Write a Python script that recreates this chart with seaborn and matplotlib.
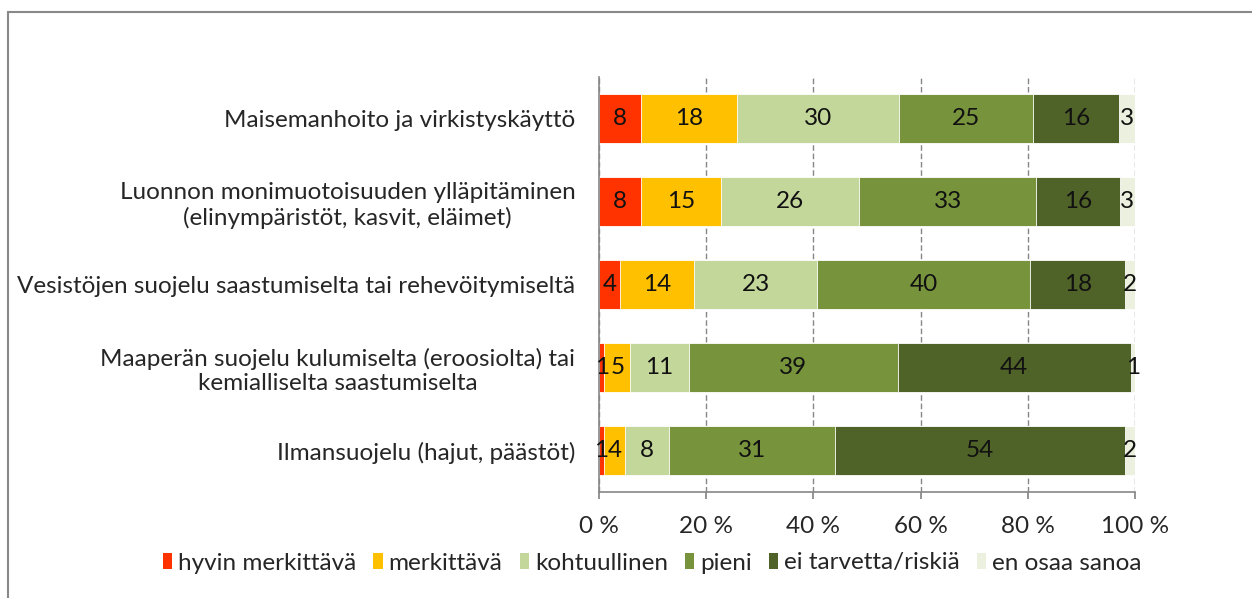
import numpy as np
import pandas as pd
import matplotlib
matplotlib.use("Agg")
import matplotlib.pyplot as plt
from matplotlib.patches import Patch, Rectangle
import seaborn as sns

categories = [
    "Maisemanhoito ja virkistyskäyttö",
    "Luonnon monimuotoisuuden ylläpitäminen\n(elinympäristöt, kasvit, eläimet)",
    "Vesistöjen suojelu saastumiselta tai rehevöitymiseltä",
    "Maaperän suojelu kulumiselta (eroosiolta) tai\nkemialliselta saastumiselta",
    "Ilmansuojelu (hajut, päästöt)",
]
series_names = ["hyvin merkittävä", "merkittävä", "kohtuullinen", "pieni",
                "ei tarvetta/riskiä", "en osaa sanoa"]
hyvin_merkittava = [7.8, 7.8, 3.9, 1.0, 0.9]
merkittava = [17.9, 15.0, 13.8, 4.8, 4.0]
kohtuullinen = [30.2, 25.8, 23.0, 11.0, 8.2]
pieni = [25.0, 32.9, 39.8, 38.9, 31.0]
ei_tarvetta = [16.1, 15.7, 17.6, 43.5, 54.0]
en_osaa = [3.0, 2.8, 1.9, 0.8, 1.9]
labels = [
    [8, 8, 4, 1, 1],
    [18, 15, 14, 5, 4],
    [30, 26, 23, 11, 8],
    [25, 33, 40, 39, 31],
    [16, 16, 18, 44, 54],
    [3, 3, 2, 1, 2],
]
xticklabels = ["0 %", "20 %", "40 %", "60 %", "80 %", "100 %"]
colors = ["#FF3300", "#FFC000", "#C4D79B", "#77933C", "#4F6228", "#EBF1DE"]

series = [hyvin_merkittava, merkittava, kohtuullinen, pieni, ei_tarvetta, en_osaa]

sns.set_theme(style="white")
plt.rcParams["font.family"] = ["Lato", "DejaVu Sans"]

FS = 17.5
W, H = 1252, 598
fig = plt.figure(figsize=(W / 100, H / 100), dpi=100)
ax = fig.add_axes([599 / W, 1 - 492 / H, (1135 - 599) / W, (492 - 77) / H])

vals = np.array(series)
cum = np.cumsum(vals, axis=0)

df_base = pd.DataFrame({"cat": categories})
for i in range(len(series) - 1, -1, -1):
    d = df_base.copy()
    d["v"] = cum[i]
    sns.barplot(data=d, y="cat", x="v", orient="h", color=colors[i],
                width=0.58, ax=ax, saturation=1, edgecolor="white",
                linewidth=0.6, zorder=3)

for i in range(len(series)):
    for j in range(len(categories)):
        center = cum[i][j] - vals[i][j] / 2
        ax.text(center, j, str(labels[i][j]), ha="center", va="center",
                fontsize=FS, color="#111111", zorder=5)

ax.set_xlim(0, 100)
ax.set_ylim(4.5, -0.5)
ax.set_xticks([0, 20, 40, 60, 80, 100])
ax.set_xticklabels(xticklabels, fontsize=FS)
ax.set_xlabel("")
ax.set_ylabel("")
ax.tick_params(axis="y", length=0, pad=17, labelsize=FS)
ax.tick_params(axis="x", length=5, color="#868686", pad=12, direction="out",
               bottom=True)
for lbl in ax.get_yticklabels():
    lbl.set_multialignment("center")

ax.grid(axis="x", color="#868686", linestyle=(0, (4, 2)), linewidth=1, zorder=0)
ax.grid(axis="y", visible=False)
for s in ["top", "right"]:
    ax.spines[s].set_visible(False)
for s in ["left", "bottom"]:
    ax.spines[s].set_color("#868686")
    ax.spines[s].set_linewidth(1.2)
    ax.spines[s].set_zorder(4)

handles = [Patch(facecolor=c, edgecolor="none") for c in colors]
fig.legend(handles, series_names, loc="center", bbox_to_anchor=(0.521, 1 - 563 / H),
           ncol=6, frameon=False, fontsize=FS, handlelength=0.38, handleheight=0.65,
           handletextpad=0.25, columnspacing=0.7)

fig.patches.append(Rectangle((8 / W, -0.05), 1.2, 1.05 - 12 / H + 0.0,
                             transform=fig.transFigure, fill=False,
                             edgecolor="#898989", linewidth=1.5))

fig.savefig("out.png", dpi=100)
